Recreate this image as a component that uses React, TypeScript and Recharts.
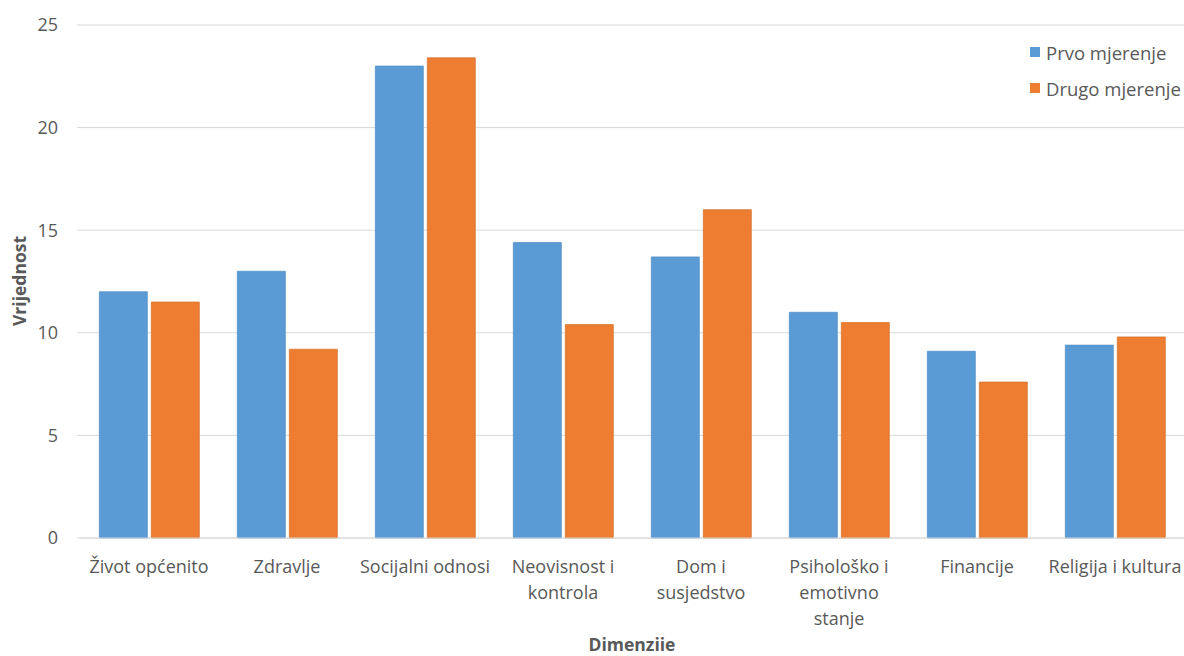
import { Bar, BarChart, CartesianGrid, Customized, Legend, XAxis, YAxis } from "recharts";

const CATEGORIES = [
  "Život općenito",
  "Zdravlje",
  "Socijalni odnosi",
  "Neovisnost i kontrola",
  "Dom i susjedstvo",
  "Psihološko i emotivno stanje",
  "Financije",
  "Religija i kultura",
];

// how the tick labels are broken into lines in the source chart
const TICK_LINES = [
  ["Život općenito"],
  ["Zdravlje"],
  ["Socijalni odnosi"],
  ["Neovisnost i", "kontrola"],
  ["Dom i", "susjedstvo"],
  ["Psihološko i", "emotivno", "stanje"],
  ["Financije"],
  ["Religija i kultura"],
];

const PRVO = [12.0, 13.0, 23.0, 14.4, 13.7, 11.0, 9.1, 9.4];
const DRUGO = [11.5, 9.2, 23.4, 10.4, 16.0, 10.5, 7.6, 9.8];
const Y_TICKS = [0, 5, 10, 15, 20, 25];

const BLUE = "#5b9bd5";
const ORANGE = "#ed7d31";
const TEXT = "#595959";
const FONT = "'Open Sans', Lato, sans-serif";

const data = CATEGORIES.map((name, i) => ({
  name,
  prvo: PRVO[i],
  drugo: DRUGO[i],
}));

function CategoryTick(props: any) {
  const { x, y, index } = props;
  const lines = TICK_LINES[index] || [];
  return (
    <g transform={`translate(${x},${y})`}>
      {lines.map((l, i) => (
        <text
          key={i}
          x={0}
          y={27 + i * 26}
          textAnchor="middle"
          fill={TEXT}
          fontSize={18}
          fontFamily={FONT}
        >
          {l}
        </text>
      ))}
    </g>
  );
}

function LegendBox() {
  const items = [
    { label: "Prvo mjerenje", color: BLUE },
    { label: "Drugo mjerenje", color: ORANGE },
  ];
  return (
    <div style={{ fontFamily: FONT, fontSize: 18.5, color: TEXT }}>
      {items.map((it) => (
        <div key={it.label} style={{ display: "flex", alignItems: "center", height: 36 }}>
          <span
            style={{ width: 10, height: 10, background: it.color, marginRight: 6, display: "inline-block" }}
          />
          {it.label}
        </div>
      ))}
    </div>
  );
}

function AxisTitles() {
  return (
    <g fontFamily={FONT} fontSize={17.5} fontWeight="bold" fill={TEXT}>
      <text x={632} y={651} textAnchor="middle">
        Dimenziie
      </text>
      <text x={26} y={281} textAnchor="middle" transform="rotate(-90 26 281)">
        Vrijednost
      </text>
    </g>
  );
}

export default function App() {
  return (
    <div style={{ position: "absolute", left: 0, top: 0, width: 1184, height: 656, background: "#fff" }}>
      <BarChart
        width={1184}
        height={656}
        data={data}
        margin={{ top: 25, right: 0, bottom: 0, left: 0 }}
        barCategoryGap="14%"
        barGap={4}
      >
        <CartesianGrid vertical={false} stroke="#d9d9d9" />
        <XAxis
          dataKey="name"
          height={118}
          tick={<CategoryTick />}
          interval={0}
          axisLine={{ stroke: "#d9d9d9" }}
          tickLine={false}
        />
        <YAxis
          width={80}
          domain={[0, 25]}
          ticks={Y_TICKS}
          axisLine={false}
          tickLine={{ stroke: "#d9d9d9" }}
          tickSize={3}
          tickMargin={19}
          tick={{ fill: TEXT, fontSize: 18, fontFamily: FONT }}
        />
        <Legend
          layout="vertical"
          verticalAlign="middle"
          align="center"
          content={<LegendBox />}
          wrapperStyle={{ top: 34, left: 1030, width: 156 }}
        />
        <Bar
          dataKey="prvo"
          name="Prvo mjerenje"
          fill={BLUE}
          stroke="#4e8bc4"
          strokeOpacity={0.7}
          isAnimationActive={false}
        />
        <Bar
          dataKey="drugo"
          name="Drugo mjerenje"
          fill={ORANGE}
          stroke="#d66f2a"
          strokeOpacity={0.7}
          isAnimationActive={false}
        />
        <Customized component={AxisTitles} />
      </BarChart>
    </div>
  );
}
